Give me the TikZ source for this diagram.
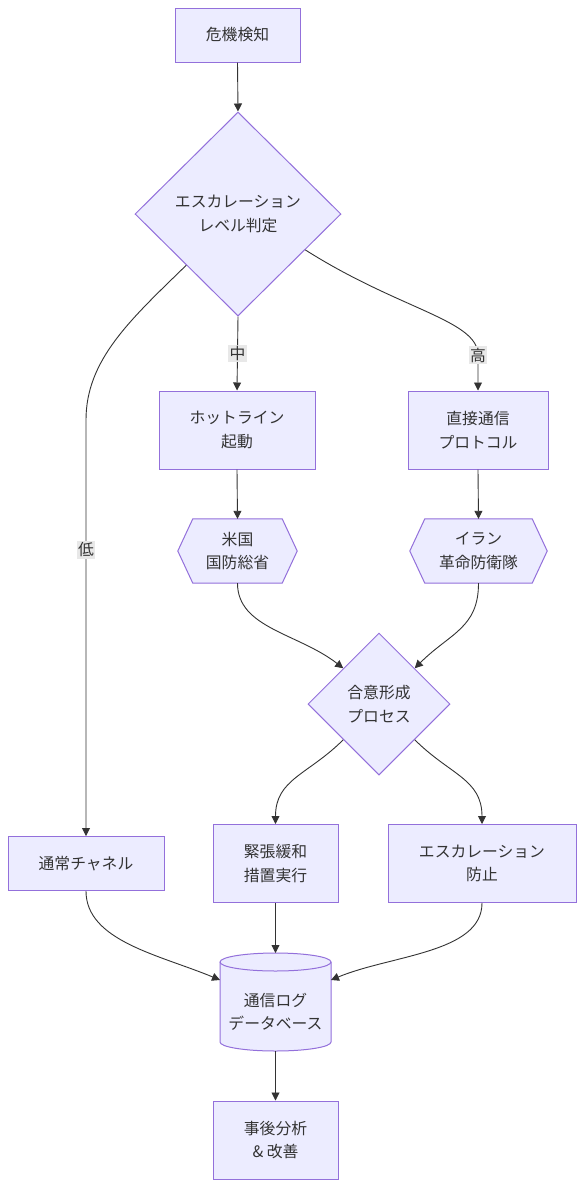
\documentclass[tikz,border=0pt]{standalone}
\usepackage{fontspec}
\setmainfont{Noto Sans CJK JP}
\usetikzlibrary{shapes.geometric,arrows.meta,calc,backgrounds}
\definecolor{nfill}{HTML}{ECECFF}
\definecolor{nline}{HTML}{9370DB}
\definecolor{eline}{HTML}{333333}
\definecolor{lblbg}{HTML}{E8E8E8}
\definecolor{txt}{HTML}{333333}
\tikzset{
 base/.style={font=\fontsize{15.8pt}{23.5pt}\selectfont, text=txt, align=center, inner sep=0pt},
 box/.style={base, rectangle, draw=nline, fill=nfill, line width=1pt},
 dmd/.style={base, diamond, draw=nline, fill=nfill, line width=1pt},
 plain/.style={base, rectangle},
 shapeline/.style={draw=nline, fill=nfill, line width=1pt},
 edge/.style={draw=eline, line width=0.9pt, -{Triangle[length=8pt,width=8pt]}},
 lbl/.style={base, fill=lblbg, inner sep=1.5pt}
}
\begin{document}
\begin{tikzpicture}[x=1pt,y=1pt]
\useasboundingbox (0,0) rectangle (584,-1187);

\node[box, minimum width=125pt, minimum height=54pt] (det) at (237.5,-35) {危機検知};
\node[dmd, minimum width=206pt, minimum height=204pt] (dia) at (238,-214) {エスカレーション\\レベル判定};
\node[box, minimum width=156pt, minimum height=78pt] (hot) at (237,-430) {ホットライン\\起動};
\node[box, minimum width=140pt, minimum height=78pt] (dc) at (478,-430) {直接通信\\プロトコル};
\node[plain, minimum width=119pt, minimum height=64pt] (us) at (237.5,-551) {米国\\国防総省};
\node[plain, minimum width=137pt, minimum height=64pt] (ir) at (478.5,-551) {イラン\\革命防衛隊};
\node[dmd, minimum width=142pt, minimum height=142pt] (cons) at (379,-704) {合意形成\\プロセス};
\node[box, minimum width=156pt, minimum height=54pt] (ch) at (86,-863.5) {通常チャネル};
\node[box, minimum width=125pt, minimum height=78pt] (red) at (275.5,-863.5) {緊張緩和\\措置実行};
\node[box, minimum width=188pt, minimum height=78pt] (prev) at (482,-863.5) {エスカレーション\\防止};
\node[plain, minimum width=111pt, minimum height=78pt] (db) at (275.5,-1012) {通信ログ\\データベース};
\node[box, minimum width=125pt, minimum height=78pt] (post) at (275.5,-1140) {事後分析\\\& 改善};

\coordinate (dbtop) at (275.5,-953);
\coordinate (dbl) at (220,-980);
\coordinate (dbr) at (331,-980);
\coordinate (diahi) at ($(dia.east)!0.35!(dia.south)$);

\begin{scope}[on background layer]
\fill[white] (0,0) rectangle (584,-1187);
\draw[shapeline] ($(us.north west)+(15,0)$) -- ($(us.north east)+(-15,0)$) -- (us.east) -- ($(us.south east)+(-15,0)$) -- ($(us.south west)+(15,0)$) -- (us.west) -- cycle;
\draw[shapeline] ($(ir.north west)+(15,0)$) -- ($(ir.north east)+(-15,0)$) -- (ir.east) -- ($(ir.south east)+(-15,0)$) -- ($(ir.south west)+(15,0)$) -- (ir.west) -- cycle;
\draw[shapeline] (220,-962) -- (220,-1042) arc[start angle=180,end angle=360,x radius=55.5pt,y radius=9pt] -- (331,-962) arc[start angle=0,end angle=180,x radius=55.5pt,y radius=9pt] -- cycle;
\draw[draw=nline, line width=1pt] (220,-962) arc[start angle=180,end angle=360,x radius=55.5pt,y radius=9pt];
\end{scope}

\draw[edge] (det.south) -- (dia.north);
\draw[edge] (dia.south west) .. controls (130,-320) and (86,-360) .. (86,-420) -- (86,-550) node[lbl]{低} -- (ch.north);
\draw[edge] (dia.south) -- node[lbl]{中} (hot.north);
\draw[edge] (diahi) .. controls (400,-310) and (478,-320) .. (478,-355) node[lbl]{高} -- (dc.north);
\draw[edge] (hot.south) -- (us.north);
\draw[edge] (dc.south) -- (ir.north);
\draw[edge] (us.south) .. controls +(0,-45) and +(-45,35) .. (cons.north west);
\draw[edge] (ir.south) .. controls +(0,-45) and +(35,35) .. (cons.north east);
\draw[edge] (cons.south west) .. controls +(-35,-35) and +(0,45) .. (red.north);
\draw[edge] (cons.south east) .. controls +(35,-35) and +(0,45) .. (prev.north);
\draw[edge] (ch.south) .. controls +(0,-50) and +(-60,25) .. (dbl);
\draw[edge] (red.south) -- (dbtop);
\draw[edge] (prev.south) .. controls +(0,-50) and +(60,25) .. (dbr);
\draw[edge] (db.south) -- (post.north);
\end{tikzpicture}
\end{document}
